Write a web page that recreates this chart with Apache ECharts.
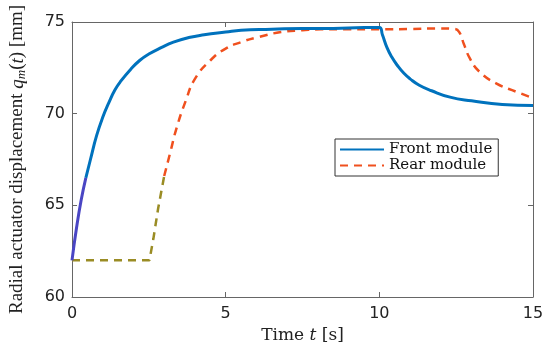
<!DOCTYPE html>
<html>
<head>
<meta charset="utf-8">
<script src="https://cdn.jsdelivr.net/npm/echarts@6/dist/echarts.min.js"></script>
<style>html,body{margin:0;padding:0;background:#fff}#c{width:550px;height:350px}</style>
</head>
<body>
<div id="c"></div>
<script>
// ---- data ----
const xTicks = [0, 5, 10, 15];
const yTicks = [60, 65, 70, 75];

const frontT = [0, 0.15, 0.3, 0.45, 0.6, 0.8, 1.0, 1.2, 1.4, 1.6, 1.9, 2.2, 2.5, 2.9, 3.3, 3.8, 4.3, 5.0, 5.5, 6.5, 7.5, 8.5, 9.5, 10.0, 10.1, 10.25, 10.4, 10.6, 10.8, 11.0, 11.3, 11.7, 12.3, 13.0, 14.0, 15.0];
const frontV = [62, 63.8, 65.3, 66.5, 67.5, 68.8, 69.8, 70.6, 71.3, 71.8, 72.4, 72.9, 73.25, 73.6, 73.9, 74.15, 74.3, 74.45, 74.55, 74.6, 74.65, 74.65, 74.7, 74.7, 74.3, 73.6, 73.1, 72.6, 72.2, 71.9, 71.55, 71.25, 70.9, 70.7, 70.5, 70.45];

const rearT = [0, 2.52, 2.65, 2.8, 3.0, 3.2, 3.4, 3.7, 4.0, 4.5, 5.0, 5.5, 6.0, 6.8, 7.5, 8.1, 9.0, 10.0, 11.0, 12.0, 12.45, 12.6, 12.75, 12.95, 13.25, 13.8, 14.45, 15.0];
const rearV = [62, 62, 63.2, 64.8, 66.6, 67.9, 69.2, 70.7, 71.9, 72.9, 73.55, 73.9, 74.15, 74.45, 74.55, 74.6, 74.6, 74.6, 74.62, 74.65, 74.62, 74.45, 73.8, 73.0, 72.3, 71.65, 71.2, 70.85];

const seriesNames = ['Front module', 'Rear module'];
// index where the (tinted) start segment of each curve ends
const frontTintEnd = 3;
const rearTintEnd = 4;
// ---------------------------------------

const pair = (t, v) => t.map((x, i) => [x, v[i]]);
const frontData = pair(frontT, frontV);
const rearData = pair(rearT, rearV);
const axisColor = '#666';
const tickFont = {fontFamily: 'DejaVu Sans', fontSize: 16, color: '#222'};
const BLUE = '#0072BD', RED = '#F0501E';

const chart = echarts.init(document.getElementById('c'), null, {renderer: 'canvas'});
const baseX = {type: 'value', min: 0, max: 15, interval: 5,
  axisLine: {show: true, onZero: false, lineStyle: {color: axisColor, width: 1}},
  axisTick: {show: true, inside: true, length: 5, lineStyle: {color: axisColor}},
  splitLine: {show: false}};
const baseY = {type: 'value', min: 60, max: 75, interval: 5,
  axisLine: {show: true, onZero: false, lineStyle: {color: axisColor, width: 1}},
  axisTick: {show: true, inside: true, length: 5, lineStyle: {color: axisColor}},
  splitLine: {show: false}};

const lineCommon = {type: 'line', showSymbol: false, symbol: 'none', smooth: 0.5, xAxisIndex: 0, yAxisIndex: 0};

chart.setOption({
  backgroundColor: '#fff',
  animation: false,
  grid: {left: 68, right: 17, top: 22, bottom: 53, containLabel: false},
  xAxis: [
    Object.assign({}, baseX, {position: 'bottom',
      axisLabel: Object.assign({margin: 9, formatter: v => xTicks.includes(v) ? String(v) : ''}, tickFont),
      name: '{n|Time }{i|t}{n| [s]}', nameLocation: 'middle', nameGap: 30,
      nameTextStyle: {rich: {n: {fontFamily: 'DejaVu Serif', fontSize: 17, color: '#222'},
                             i: {fontFamily: 'DejaVu Serif', fontStyle: 'italic', fontSize: 17, color: '#222'}}}}),
    Object.assign({}, baseX, {position: 'top', axisLabel: {show: false}})
  ],
  yAxis: [
    Object.assign({}, baseY, {position: 'left',
      axisLabel: Object.assign({margin: 7, formatter: v => yTicks.includes(v) ? String(v) : ''}, tickFont),
      name: '{n|Radial actuator displacement }{i|q}{s|m}{n|(}{i|t}{n|) [mm]}', nameLocation: 'middle', nameGap: 44, nameRotate: 90,
      nameTextStyle: {rich: {n: {fontFamily: 'Liberation Serif', fontSize: 19, color: '#222'},
                             i: {fontFamily: 'Liberation Serif', fontStyle: 'italic', fontSize: 19, color: '#222'},
                             s: {fontFamily: 'Liberation Serif', fontStyle: 'italic', fontSize: 13, color: '#222', padding: [8, 0, 0, 0]}}}}),
    Object.assign({}, baseY, {position: 'right', axisLabel: {show: false}})
  ],
  legend: {
    orient: 'vertical', left: 335, top: 139,
    backgroundColor: '#fff', borderColor: '#333', borderWidth: 1, borderRadius: 0,
    padding: [3, 6, 3, 4], itemGap: 1, itemWidth: 44, itemHeight: 16,
    itemStyle: {opacity: 0},
    textStyle: {fontFamily: 'DejaVu Serif', fontSize: 15, color: '#111'},
    data: seriesNames
  },
  series: [
    Object.assign({}, lineCommon, {name: seriesNames[1], data: rearData.slice(rearTintEnd), z: 2,
      itemStyle: {color: RED}, lineStyle: {color: RED, width: 2.5, type: [8, 6]}}),
    Object.assign({}, lineCommon, {name: 'rear-start', data: rearData.slice(0, rearTintEnd + 1), z: 2, smooth: false,
      itemStyle: {color: '#9a8c24'}, lineStyle: {color: '#9a8c24', width: 2.5, type: [8, 6]}}),
    Object.assign({}, lineCommon, {name: seriesNames[0], data: frontData.slice(frontTintEnd), z: 3,
      itemStyle: {color: BLUE}, lineStyle: {color: BLUE, width: 3}}),
    Object.assign({}, lineCommon, {name: 'front-start', data: frontData.slice(0, frontTintEnd + 1), z: 3,
      itemStyle: {color: '#4a46c4'}, lineStyle: {color: '#4a46c4', width: 3}})
  ]
});
</script>
</body>
</html>
